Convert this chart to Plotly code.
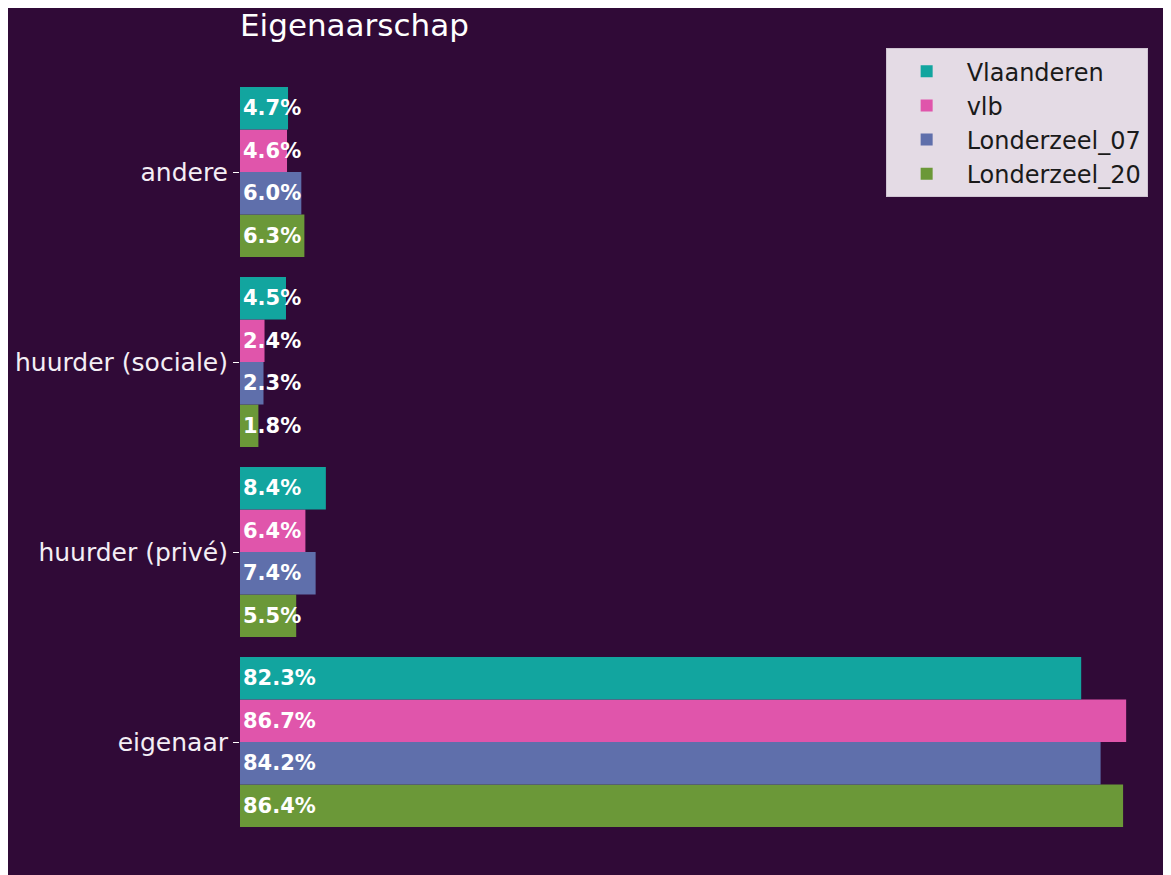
import plotly.graph_objects as go

categories = ["eigenaar", "huurder (privé)", "huurder (sociale)", "andere"]
series_names = ["Vlaanderen", "vlb", "Londerzeel_07", "Londerzeel_20"]
vlaanderen = [82.3, 8.4, 4.5, 4.7]
vlb = [86.7, 6.4, 2.4, 4.6]
londerzeel_07 = [84.2, 7.4, 2.3, 6.0]
londerzeel_20 = [86.4, 5.5, 1.8, 6.3]
colors = ["#12a59f", "#e055ab", "#5f6fab", "#6b9838"]

values = [vlaanderen, vlb, londerzeel_07, londerzeel_20]
BG = "#300a37"
FONT = "DejaVu Sans"

fig = go.Figure()
# add in reverse so Vlaanderen sits at the top of each group
for name, vals, col in reversed(list(zip(series_names, values, colors))):
    fig.add_trace(go.Bar(
        y=categories, x=vals, name=name, orientation="h",
        marker=dict(color=col, line=dict(width=0)),
        text=[f"{v:.1f}%" for v in vals],
        textposition="inside", insidetextanchor="start", textangle=0,
        textfont=dict(family=FONT, size=21, color="white", weight="bold"),
        constraintext="none", cliponaxis=False,
    ))

fig.update_layout(
    width=1163, height=867,
    barmode="group", bargap=0.105, bargroupgap=0,
    paper_bgcolor=BG, plot_bgcolor=BG,
    margin=dict(l=232, r=6, t=69, b=38),
    font=dict(family=FONT, color="white"),
    title=dict(text="Eigenaarschap", x=232/1163, xanchor="left", y=0.993, yanchor="top",
               pad=dict(t=0, b=0, l=0, r=0),
               font=dict(family=FONT, size=31, color="white")),
    xaxis=dict(range=[0, 90.5], visible=False, showgrid=False, zeroline=False),
    yaxis=dict(range=[-0.5, 3.5], showgrid=False, zeroline=False, showline=False,
               ticks="outside", ticklen=6, tickcolor="white", tickwidth=1,
               tickfont=dict(family=FONT, size=25, color="#f4eef5")),
    legend=dict(x=0.698, y=1.038, xanchor="left", yanchor="top",
                traceorder="reversed", bgcolor="#e4dbe5", bordercolor="#cfc4d2", borderwidth=1,
                font=dict(family=FONT, size=24, color="#1a1a1a"), itemwidth=70,
                tracegroupgap=0),
    showlegend=True,
)

fig.write_html("out.html")
